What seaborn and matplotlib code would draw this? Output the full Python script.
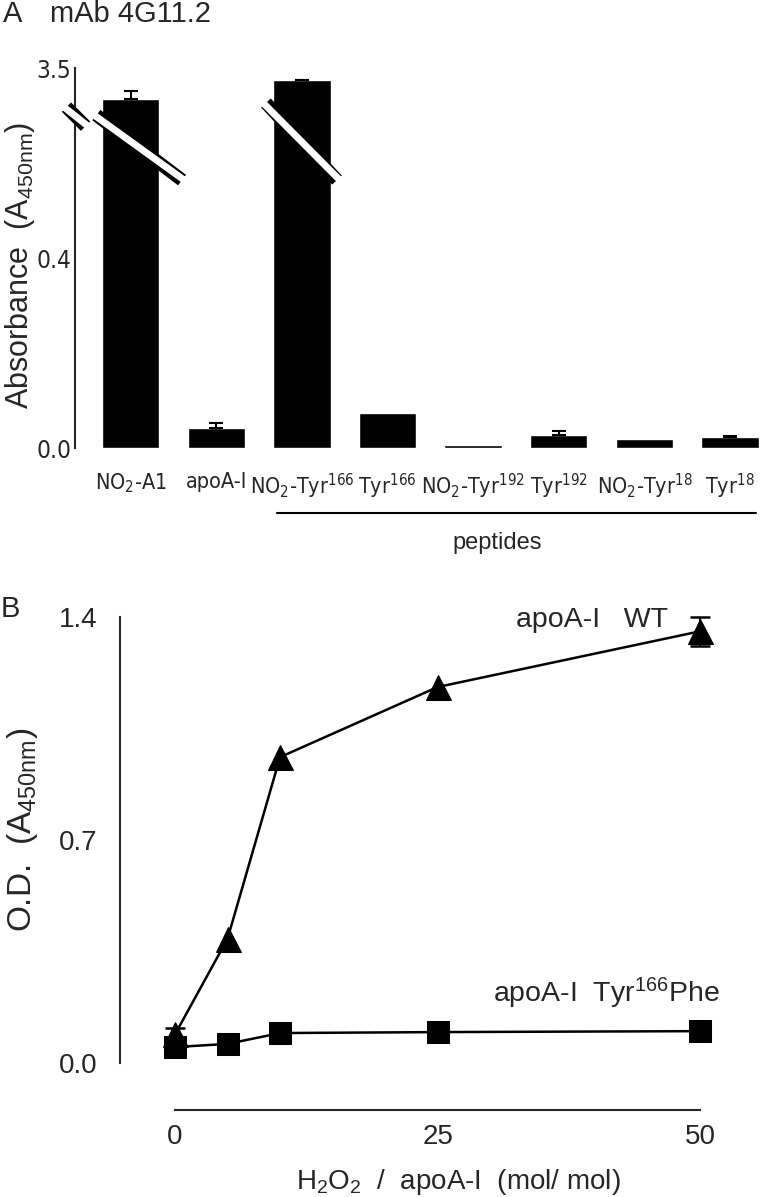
import numpy as np
import pandas as pd
import matplotlib
matplotlib.use('Agg')
import matplotlib.pyplot as plt
import matplotlib.transforms as mtransforms
from matplotlib import font_manager
import seaborn as sns

# Panel A data (absorbance, A450nm)
categories = ['NO2-A1', 'apoA-I', 'NO2-Tyr166', 'Tyr166',
              'NO2-Tyr192', 'Tyr192', 'NO2-Tyr18', 'Tyr18']
tick_labels = [r'NO$_2$-A1', 'apoA-I', r'NO$_2$-Tyr$^{166}$', r'Tyr$^{166}$',
               r'NO$_2$-Tyr$^{192}$', r'Tyr$^{192}$', r'NO$_2$-Tyr$^{18}$', r'Tyr$^{18}$']
absorbance = [3.17, 0.042, 3.37, 0.074, 0.006, 0.028, 0.020, 0.023]
abs_err = [0.085, 0.011, 0.006, 0.0, 0.0, 0.008, 0.0, 0.002]

# Panel B data
h2o2 = [0, 5, 10, 25, 50]
od_wt = [0.09, 0.39, 0.96, 1.18, 1.355]
od_wt_err = [0.02, 0.0, 0.0, 0.0, 0.045]
od_phe = [0.05, 0.06, 0.094, 0.097, 0.10]

sns.set_style('white')
plt.rcParams['font.family'] = ['Liberation Sans', 'DejaVu Sans']
plt.rcParams['mathtext.default'] = 'regular'

# look for a condensed sans face for the panel A tick labels
narrow_fp = None
cands = []
for f in font_manager.fontManager.ttflist:
    fn = f.fname.lower()
    if ('narrow' in fn or 'condensed' in fn) and 'sans' in fn and 'mono' not in fn \
            and 'bold' not in fn and 'italic' not in fn and 'oblique' not in fn \
            and 'light' not in fn and 'semi' not in fn and 'extra' not in fn:
        cands.append(f.fname)
cands.sort(key=lambda p: (0 if 'liberation' in p.lower() else
                          1 if 'dejavu' in p.lower() else 2, p))
if cands:
    narrow_fp = cands[0]


def nprops(size):
    if narrow_fp:
        return font_manager.FontProperties(fname=narrow_fp, size=size)
    return font_manager.FontProperties(family='Liberation Sans', size=size * 0.9)


W, H = 760, 1197
fig = plt.figure(figsize=(W / 100, H / 100), dpi=100)


def box(x0, y0, x1, y1):
    # pixel box (top-left origin) -> figure fraction rect
    return [x0 / W, 1 - y1 / H, (x1 - x0) / W, (y1 - y0) / H]


# ---------------- panel A ----------------
ax1 = fig.add_axes(box(75, 68, 760, 448))


def fwd(v):
    v = np.asarray(v, dtype=float)
    return np.where(v <= 0.7, v, np.where(v >= 3.0, 0.7 + (v - 3.0) * 0.2, 0.7))


def inv(u):
    u = np.asarray(u, dtype=float)
    return np.where(u <= 0.7, u, 3.0 + (u - 0.7) / 0.2)


sns.barplot(x=categories, y=absorbance, color='black', width=0.67,
            saturation=1, errorbar=None, ax=ax1)
ax1.set_yscale('function', functions=(fwd, inv))
xpos = np.arange(len(categories))
has_err = [i for i, e in enumerate(abs_err) if e > 0]
ax1.errorbar([xpos[i] for i in has_err], [absorbance[i] for i in has_err],
             yerr=[[0] * len(has_err), [abs_err[i] for i in has_err]],
             fmt='none', ecolor='black', elinewidth=1.5, capsize=4.7,
             capthick=1.5, clip_on=False)
ax1.set_xlim(-0.65, 7.35)
ax1.set_ylim(0, 3.5)
ax1.set_yticks([0.0, 0.4, 3.5], labels=['0.0', '0.4', '3.5'])
ax1.set_xticks(xpos, labels=tick_labels)
for t in ax1.get_xticklabels():
    t.set_fontproperties(nprops(15.5))
for t in ax1.get_yticklabels():
    t.set_fontproperties(nprops(17.5))
ax1.tick_params(axis='y', direction='in', length=12, width=1.5, pad=2.5)
ax1.tick_params(axis='x', length=0, pad=17)
for s in ['top', 'right', 'bottom']:
    ax1.spines[s].set_visible(False)
ax1.spines['left'].set_linewidth(1.5)
ax1.set_xlabel('')
ax1.set_ylabel(r'Absorbance  (A$_{450nm}$)', fontsize=22)
ax1.yaxis.set_label_coords(-0.0555, 0.48)

# axis-break stripes
bt = mtransforms.blended_transform_factory(ax1.transData, ax1.transAxes)
for (xa, ya, xb, yb) in [(-0.40, 0.876, 0.60, 0.705),
                         (2 - 0.42, 0.908, 2 + 0.41, 0.705),
                         (-0.75, 0.897, -0.526, 0.847)]:
    ax1.plot([xa, xb], [ya, yb], color='black', lw=9.5, transform=bt,
             solid_capstyle='butt', clip_on=False, zorder=5)
    ax1.plot([xa - 0.05, xb + 0.05], [ya + 0.004, yb - 0.004], color='white',
             lw=5, transform=bt, solid_capstyle='butt', clip_on=False, zorder=6)

# peptides bracket
ax1.plot([1.71, 7.3], [-0.171, -0.171], color='black', lw=1.5,
         transform=bt, clip_on=False)
ax1.text(4.28, -0.25, 'peptides', transform=bt, ha='center', va='center',
         fontsize=17)

fig.text(3 / W, 1 - 14 / H, 'A', fontsize=21, va='center', ha='left')
fig.text(50 / W, 1 - 14 / H, 'mAb 4G11.2', fontsize=21, va='center', ha='left')

# ---------------- panel B ----------------
ax2 = fig.add_axes(box(120, 601, 760, 1110))
df_b = pd.DataFrame({'h2o2': h2o2, 'wt': od_wt, 'phe': od_phe})
sns.lineplot(data=df_b, x='h2o2', y='wt', marker='^', markersize=18,
             color='black', lw=1.8, markeredgecolor='black', ax=ax2,
             clip_on=False, zorder=3)
sns.lineplot(data=df_b, x='h2o2', y='phe', marker='s', markersize=16,
             color='black', lw=1.8, markeredgecolor='black', ax=ax2,
             clip_on=False, zorder=4)
wt_err_idx = [i for i, e in enumerate(od_wt_err) if e > 0]
ax2.errorbar([h2o2[i] for i in wt_err_idx], [od_wt[i] for i in wt_err_idx],
             yerr=[od_wt_err[i] for i in wt_err_idx], fmt='none',
             ecolor='black', elinewidth=1.5, capsize=7, capthick=1.8,
             clip_on=False)
ax2.set_xlim(-5.24, 55.7)
ax2.set_ylim(-0.1475, 1.45)
ax2.set_xticks([0, 25, 50])
ax2.set_yticks([0.0, 0.7, 1.4], labels=['0.0', '0.7', '1.4'])
ax2.spines['left'].set_bounds(0, 1.4)
ax2.spines['bottom'].set_bounds(0, 50)
for s in ['top', 'right']:
    ax2.spines[s].set_visible(False)
ax2.spines['left'].set_linewidth(1.5)
ax2.spines['bottom'].set_linewidth(1.5)
ax2.tick_params(axis='y', direction='in', length=15, width=1.5, pad=16,
                labelsize=20)
ax2.tick_params(axis='x', direction='in', length=13, width=1.5, pad=10,
                labelsize=20)
ax2.set_xlabel(r'H$_2$O$_2$  /  apoA-I  (mol/ mol)', fontsize=20)
ax2.xaxis.set_label_coords(0.528, -0.112)
ax2.set_ylabel(r'O.D.  (A$_{450nm}$)', fontsize=24)
ax2.yaxis.set_label_coords(-0.125, 0.55)
ax2.text(46.9, 1.39, 'apoA-I   WT', ha='right', va='center', fontsize=20.5)
ax2.text(51.9, 0.22, r'apoA-I  Tyr$^{166}$Phe', ha='right', va='center',
         fontsize=20.5)
fig.text(1 / W, 1 - 609 / H, 'B', fontsize=21, va='center', ha='left')

fig.savefig('out.png', dpi=100)
